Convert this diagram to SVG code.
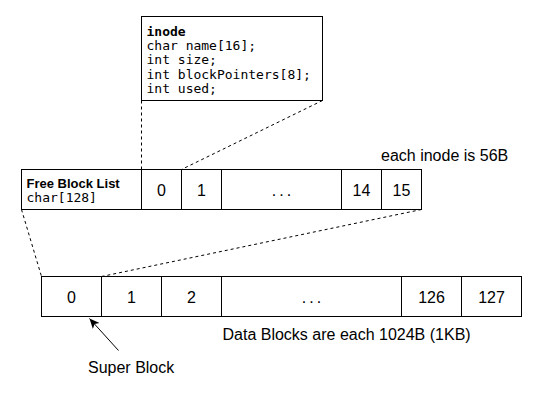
<svg xmlns="http://www.w3.org/2000/svg" width="542" height="402" viewBox="0 0 542 402">
<style>
.box{fill:#fff;stroke:#000;stroke-width:1}
.dash{fill:none;stroke:#000;stroke-width:1;stroke-dasharray:3 3}
.lbl{font-family:"Liberation Sans",Arial,sans-serif;font-size:16px;fill:#000}
.c{text-anchor:middle}
.dots{letter-spacing:3px}
.mono{font-family:"DejaVu Sans Mono","Liberation Mono",monospace;font-size:13px;fill:#000}
.b{font-weight:bold}
</style>
<defs>
<marker id="arr" markerUnits="userSpaceOnUse" markerWidth="12" markerHeight="10" refX="10" refY="4.5" orient="auto">
<path d="M0,0 L10,4.5 L0,9 L2.5,4.5 Z" fill="#000"/>
</marker>
</defs>
<rect width="542" height="402" fill="#fff"/>
<g transform="translate(-0.5,-0.5)">
<g id="connectors">
<line class="dash" x1="142" y1="101" x2="142" y2="170"/>
<line class="dash" x1="323" y1="101" x2="182" y2="170"/>
<line class="dash" x1="22" y1="210" x2="42" y2="277"/>
<line class="dash" x1="422" y1="210" x2="102" y2="277"/>
<line x1="119" y1="351" x2="90" y2="319" stroke="#000" stroke-width="1" marker-end="url(#arr)"/>
</g>
<g id="inode">
<rect class="box" x="142" y="17" width="181" height="84"/>
<text class="mono b" x="147" y="36">inode</text>
<text class="mono" x="147" y="50.5">char name[16];</text>
<text class="mono" x="147" y="64.8">int size;</text>
<text class="mono" x="147" y="79">int blockPointers[8];</text>
<text class="mono" x="147" y="93.3">int used;</text>
</g>
<g id="freeBlockList">
<rect class="box" x="22" y="170" width="120" height="40"/>
<text class="lbl b" style="font-size:13px" x="27" y="188">Free Block List</text>
<text class="mono" x="27" y="202">char[128]</text>
</g>
<g id="inodeTable">
<rect class="box" x="142" y="170" width="40" height="40"/>
<text class="lbl c" x="162" y="196">0</text>
<rect class="box" x="182" y="170" width="40" height="40"/>
<text class="lbl c" x="202" y="196">1</text>
<rect class="box" x="222" y="170" width="120" height="40"/>
<text class="lbl c dots" x="283.5" y="196">...</text>
<rect class="box" x="342" y="170" width="40" height="40"/>
<text class="lbl c" x="362" y="196">14</text>
<rect class="box" x="382" y="170" width="40" height="40"/>
<text class="lbl c" x="402" y="196">15</text>
</g>
<g id="dataBlocks">
<rect class="box" x="42" y="277" width="60" height="40"/>
<text class="lbl c" x="72" y="303">0</text>
<rect class="box" x="102" y="277" width="60" height="40"/>
<text class="lbl c" x="132" y="303">1</text>
<rect class="box" x="162" y="277" width="60" height="40"/>
<text class="lbl c" x="192" y="303">2</text>
<rect class="box" x="222" y="277" width="180" height="40"/>
<text class="lbl c dots" x="313.5" y="303">...</text>
<rect class="box" x="402" y="277" width="60" height="40"/>
<text class="lbl c" x="432" y="303">126</text>
<rect class="box" x="462" y="277" width="60" height="40"/>
<text class="lbl c" x="492" y="303">127</text>
</g>
<g id="inodeSizeNote">
<text class="lbl" x="381.5" y="161">each inode is 56B</text>
</g>
<g id="dataBlocksNote">
<text class="lbl" x="223" y="340">Data Blocks are each 1024B (1KB)</text>
</g>
<g id="superBlockNote">
<text class="lbl" x="88.5" y="373">Super Block</text>
</g>
</g>
</svg>
